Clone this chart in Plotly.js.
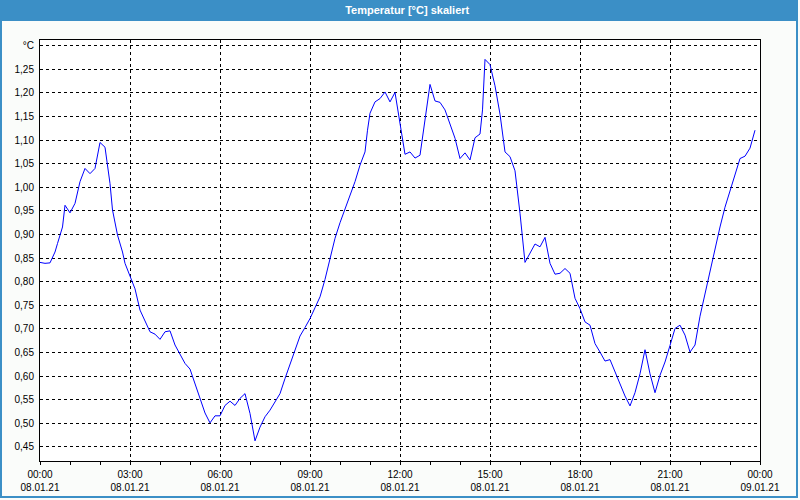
<!DOCTYPE html>
<html>
<head>
<meta charset="utf-8">
<script src="https://cdn.plot.ly/plotly-3.0.1.min.js"></script>
<style>
html,body{margin:0;padding:0;background:#fafcfa;}
#chart{width:800px;height:500px;}
</style>
</head>
<body>
<div id="chart"></div>
<script>
// ---- data ----
const times = [
"00:00","00:10","00:20","00:30","00:35","00:45","00:50","01:00","01:10","01:20",
"01:30","01:40","01:50","02:00","02:10","02:20","02:25","02:35","02:45","02:50",
"03:00","03:10","03:20","03:30","03:40","03:50","04:00","04:10","04:20","04:30",
"04:40","04:50","05:00","05:10","05:20","05:30","05:40","05:50","06:00","06:10",
"06:20","06:30","06:40","06:50","07:00","07:10","07:20","07:30","07:40","07:50",
"08:00","08:10","08:20","08:30","08:40","08:50","09:00","09:10","09:20","09:30",
"09:40","09:50","10:00","10:10","10:20","10:30","10:40","10:50","10:55","11:00",
"11:10","11:20","11:30","11:40","11:50","12:00","12:10","12:20","12:30","12:40",
"12:50","13:00","13:10","13:20","13:30","13:40","13:50","14:00","14:10","14:20",
"14:30","14:40","14:45","14:50","15:00","15:10","15:20","15:30","15:40","15:50",
"16:00","16:10","16:20","16:30","16:40","16:50","17:00","17:10","17:20","17:30",
"17:40","17:50","18:00","18:10","18:20","18:30","18:40","18:50","19:00","19:10",
"19:20","19:30","19:40","19:50","20:00","20:10","20:20","20:30","20:40","20:50",
"21:00","21:10","21:20","21:30","21:40","21:50","22:00","22:10","22:20","22:30",
"22:40","22:50","23:00","23:10","23:20","23:30","23:40","23:50"
];
const temps = [
0.841,0.839,0.840,0.863,0.881,0.916,0.962,0.946,0.966,1.012,
1.040,1.029,1.040,1.095,1.085,1.008,0.952,0.899,0.863,0.839,
0.812,0.785,0.740,0.718,0.694,0.689,0.678,0.694,0.696,0.666,
0.645,0.627,0.615,0.585,0.553,0.522,0.501,0.516,0.516,0.538,
0.547,0.538,0.553,0.563,0.521,0.463,0.492,0.514,0.528,0.545,
0.563,0.595,0.625,0.651,0.685,0.703,0.722,0.745,0.768,0.805,
0.850,0.892,0.925,0.955,0.985,1.012,1.047,1.075,1.121,1.157,
1.181,1.188,1.202,1.181,1.201,1.135,1.070,1.075,1.062,1.068,
1.142,1.218,1.183,1.180,1.164,1.135,1.104,1.061,1.073,1.058,
1.105,1.113,1.164,1.271,1.260,1.215,1.155,1.075,1.065,1.035,
0.945,0.841,0.860,0.880,0.874,0.894,0.839,0.816,0.818,0.828,
0.818,0.765,0.743,0.715,0.708,0.669,0.651,0.632,0.635,0.609,
0.581,0.558,0.537,0.565,0.605,0.656,0.605,0.565,0.602,0.630,
0.665,0.701,0.708,0.687,0.651,0.666,0.727,0.775,0.823,0.870,
0.916,0.958,0.994,1.029,1.061,1.066,1.083,1.121
];
const day = "2021-01-08";
const xTickVals = ["2021-01-08 00:00","2021-01-08 03:00","2021-01-08 06:00","2021-01-08 09:00","2021-01-08 12:00","2021-01-08 15:00","2021-01-08 18:00","2021-01-08 21:00","2021-01-09 00:00"];
const xTickTimes = ["00:00","03:00","06:00","09:00","12:00","15:00","18:00","21:00","00:00"];
const xTickDates = ["08.01.21","08.01.21","08.01.21","08.01.21","08.01.21","08.01.21","08.01.21","08.01.21","09.01.21"];
const yTickVals = [0.45,0.50,0.55,0.60,0.65,0.70,0.75,0.80,0.85,0.90,0.95,1.00,1.05,1.10,1.15,1.20,1.25,1.30];
const yTickText = ["0,45","0,50","0,55","0,60","0,65","0,70","0,75","0,80","0,85","0,90","0,95","1,00","1,05","1,10","1,15","1,20","1,25","°C"];
const chartTitle = "Temperatur [°C] skaliert";

// ---- layout ----
const W = 800, H = 500, ML = 40, MR = 40, MT = 40, MB = 39;
const PW = W - ML - MR, PH = H - MT - MB;
const px = v => (v - ML) / PW;           // pixel x -> paper x
const py = v => (H - MB - v) / PH;       // pixel y -> paper y
const xRange = ["2021-01-08 00:00", "2021-01-09 00:00"];
const tickFont = {family: "Liberation Sans, Arial, sans-serif", size: 10, color: "#000"};

const trace = {
  x: times.map(t => day + " " + t),
  y: temps,
  type: "scatter",
  mode: "lines",
  line: {color: "#0000ff", width: 1},
  hoverinfo: "skip"
};

const layout = {
  width: W, height: H,
  margin: {l: ML, r: MR, t: MT, b: MB, pad: 0},
  paper_bgcolor: "#fafcfa",
  plot_bgcolor: "#ffffff",
  showlegend: false,
  title: {
    text: chartTitle,
    x: 408 / W, xanchor: "center",
    y: 1 - 10.5 / H, yanchor: "middle",
    xref: "paper", yref: "container",
    font: {family: "Liberation Sans, Arial, sans-serif", size: 11, color: "#ffffff", weight: "bold"}
  },
  xaxis: {
    type: "date",
    range: xRange,
    tickvals: xTickVals,
    ticktext: xTickTimes,
    ticks: "outside", ticklen: 3, tickcolor: "#000", tickwidth: 1,
    minor: {dtick: 3600000, ticks: "outside", ticklen: 3, tickcolor: "#000", showgrid: false},
    showgrid: true, gridcolor: "#000", gridwidth: 1, griddash: "3px,3px",
    showline: true, linecolor: "#000", linewidth: 1, mirror: true,
    zeroline: false,
    tickfont: tickFont,
    ticklabelstandoff: 1,
    fixedrange: true
  },
  xaxis2: {
    type: "date",
    overlaying: "x", anchor: "y", side: "bottom",
    range: xRange,
    tickvals: xTickVals,
    ticktext: xTickDates,
    ticks: "", showgrid: false, showline: false, zeroline: false,
    tickfont: tickFont,
    ticklabelstandoff: 19,
    fixedrange: true
  },
  yaxis: {
    range: [0.4203, 1.3121],
    tickvals: yTickVals,
    ticktext: yTickText,
    ticks: "",
    showgrid: true, gridcolor: "#000", gridwidth: 1, griddash: "3px,3px",
    showline: true, linecolor: "#000", linewidth: 1, mirror: true,
    zeroline: false,
    tickfont: tickFont,
    ticklabelstandoff: 3,
    fixedrange: true
  },
  shapes: [
    {type: "rect", xref: "paper", yref: "paper", layer: "below",
     x0: px(0), x1: px(798), y0: py(21), y1: py(0),
     fillcolor: "#3b8fc6", line: {width: 0}},
    {type: "rect", xref: "paper", yref: "paper", layer: "above",
     x0: px(1), x1: px(797), y0: py(497), y1: py(1),
     fillcolor: "rgba(0,0,0,0)", line: {color: "#3b8fc6", width: 2}}
  ]
};

// empty trace to activate xaxis2
const dummy = {x: [xRange[0]], y: [null], xaxis: "x2", yaxis: "y", type: "scatter", mode: "lines", hoverinfo: "skip", showlegend: false};

Plotly.newPlot("chart", [trace, dummy], layout, {staticPlot: true, displayModeBar: false});
</script>
</body>
</html>
